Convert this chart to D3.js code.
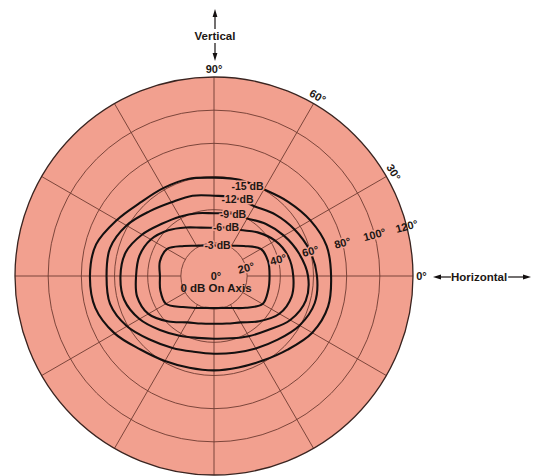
<!DOCTYPE html>
<html><head><meta charset="utf-8">
<script src="https://cdn.jsdelivr.net/npm/d3@7"></script>
<style>
html,body{margin:0;padding:0;background:#fff;}
svg{display:block;}
text{font-family:"Liberation Sans", Arial, Helvetica, sans-serif; font-weight:bold; fill:#1d1714;}
</style></head><body>
<svg id="chart" width="542" height="476"></svg>
<script>
// ---- data (azimuth in degrees, counter-clockwise from horizontal; values = off-axis angle in degrees) ----
const azimuths = [0,15,30,45,60,75,90,105,120,135,150,165,180,195,210,225,240,255,270,285,300,315,330,345];
const contourNames = ["-3 dB","-6 dB","-9 dB","-12 dB","-15 dB"];
const db3  = [33.5,33.8,32.6,25.6,21.1,19.0,18.3,19.0,21.1,25.6,32.6,33.8,32.6,33.5,33.5,26.5,22.3,19.9,19.3,19.9,22.3,27.1,33.8,33.8];
const db6  = [47.8,46.3,42.6,37.2,32.0,30.2,29.1,30.2,33.8,39.0,44.0,46.6,47.0,48.0,45.7,38.8,32.3,29.7,28.8,29.7,32.3,38.6,45.5,48.4];
const db9  = [56.7,53.0,48.7,44.3,40.1,39.0,37.8,39.2,41.3,44.5,50.0,55.1,56.4,56.0,51.9,46.1,41.6,38.6,37.8,38.9,41.9,46.1,53.1,57.3];
const db12 = [62.1,59.7,56.1,52.4,48.6,48.9,48.4,50.1,51.3,55.1,60.9,64.9,64.8,64.9,60.6,54.4,50.1,47.3,46.9,47.9,50.4,54.3,59.6,62.9];
const db15 = [70.6,70.3,67.1,63.3,60.3,60.0,59.3,60.6,61.2,62.7,67.6,73.6,74.8,74.1,69.2,62.7,59.2,57.3,56.9,57.1,58.9,62.8,68.4,71.2];
const ringValues = [20,40,60,80,100,120];
const ringLabels = ["20°","40°","60°","80°","100°","120°"];
const spokeAngles = [0,30,60,90,120,150,180,210,240,270,300,330];
const edgeAngles = [0,30,60,90];
const edgeLabels = ["0°","30°","60°","90°"];
const axisTitles = ["Vertical","Horizontal"];
const centerLabels = ["0°","0 dB On Axis"];

// ---- layout ----
const cx = 214, cy = 276, R = 199;
const FILL = "#F2A08F", GRID = "#6e3b31", INK = "#141010";
const rScale = d3.scaleLinear().domain([0,120]).range([0,R]);
const rad = d => d*Math.PI/180;
const svg = d3.select("#chart");
const g = svg.append("g").attr("transform", `translate(${cx},${cy})`);
const px = (az, r) => [r*Math.cos(rad(az)), -r*Math.sin(rad(az))];

// disc
g.append("circle").attr("r", rScale(120)).attr("fill", FILL).attr("stroke", "none");

// rings
g.selectAll("circle.ring").data(ringValues.slice(0,-1)).join("circle")
  .attr("class","ring").attr("r", d => rScale(d))
  .attr("fill","none").attr("stroke", GRID).attr("stroke-width", 0.9);

// spokes
g.selectAll("line.spoke").data(spokeAngles).join("line")
  .attr("class","spoke")
  .attr("x1", d => px(d, rScale(20))[0]).attr("y1", d => px(d, rScale(20))[1])
  .attr("x2", d => px(d, rScale(120))[0]).attr("y2", d => px(d, rScale(120))[1])
  .attr("stroke", GRID).attr("stroke-width", 0.9);

// outer rim
g.append("circle").attr("r", rScale(120)).attr("fill","none").attr("stroke","#3a2420").attr("stroke-width",1.3);

// contours
const series = [db3, db6, db9, db12, db15];
const radial = d3.lineRadial()
  .angle(d => rad(90 - d[0]))
  .radius(d => rScale(d[1]))
  .curve(d3.curveCatmullRomClosed.alpha(0.5));
g.selectAll("path.contour").data(series).join("path")
  .attr("class","contour")
  .attr("d", s => radial(azimuths.map((a,i) => [a, s[i]])))
  .attr("fill","none").attr("stroke", INK).attr("stroke-width", 2.1).attr("stroke-linejoin","round");

// contour labels (placed on each contour's top)
const labelDx = [3.5, 12, 19, 23.5, 33.5];
const labelDy = [-0.2, -0.7, 0.7, 3.5, 8.8];
const top90 = azimuths.indexOf(90);
g.selectAll("text.clab").data(contourNames).join("text")
  .attr("class","clab")
  .attr("x", (d,i) => labelDx[i])
  .attr("y", (d,i) => -rScale(series[i][top90]) + labelDy[i])
  .attr("text-anchor","middle").attr("dominant-baseline","central")
  .attr("font-size", 10.5)
  .attr("stroke", FILL).attr("stroke-width", 3).attr("paint-order","stroke")
  .text(d => d);

// ring labels along ~14.5° azimuth
g.selectAll("text.rlab").data(ringValues).join("text")
  .attr("class","rlab")
  .attr("transform", d => { const p = px(14.5, rScale(d)); return `translate(${p[0]},${p[1]}) rotate(-15)`; })
  .attr("text-anchor","middle").attr("dominant-baseline","central")
  .attr("font-size", 11)
  .attr("stroke", (d,i) => i < ringValues.length-1 ? FILL : "none")
  .attr("stroke-width", 3).attr("paint-order","stroke")
  .text((d,i) => ringLabels[i]);

// edge (azimuth) labels
const edgeR = rScale(120) + 8.5;
g.selectAll("text.elab").data(edgeAngles).join("text")
  .attr("class","elab")
  .attr("transform", d => {
    const p = px(d, edgeR);
    const rot = (d === 0 || d === 90) ? 0 : 90 - d;
    return `translate(${p[0]},${p[1]}) rotate(${rot})`;
  })
  .attr("text-anchor","middle").attr("dominant-baseline","central")
  .attr("font-size", 11)
  .text((d,i) => edgeLabels[i]);

// center labels
g.append("text").attr("x", 2).attr("y", 4).attr("text-anchor","middle").attr("font-size", 11).text(centerLabels[0]);
g.append("text").attr("x", 2).attr("y", 16).attr("text-anchor","middle").attr("font-size", 11.5).text(centerLabels[1]);

// axis titles with arrows
function arrow(x1, y1, x2, y2) {
  // line from (x1,y1) to tip (x2,y2) with filled head
  const ang = Math.atan2(y2 - y1, x2 - x1), L = 8, W = 2.4;
  const bx = x2 - L*Math.cos(ang), by = y2 - L*Math.sin(ang);
  svg.append("line").attr("x1", x1).attr("y1", y1).attr("x2", bx).attr("y2", by)
    .attr("stroke", INK).attr("stroke-width", 1.2);
  const nx = -Math.sin(ang)*W, ny = Math.cos(ang)*W;
  svg.append("path").attr("d", `M${x2},${y2}L${bx+nx},${by+ny}L${bx-nx},${by-ny}Z`).attr("fill", INK);
}
const vx = cx + 1;
svg.append("text").attr("x", vx).attr("y", 39.5).attr("text-anchor","middle").attr("font-size", 11.5).text(axisTitles[0]);
arrow(vx, 29, vx, 9);
arrow(vx, 43, vx, 61);
svg.append("text").attr("x", 479).attr("y", 281).attr("text-anchor","middle").attr("font-size", 11.5).text(axisTitles[1]);
arrow(451, 277, 433, 277);
arrow(508, 277, 531, 277);
</script>
</body></html>
